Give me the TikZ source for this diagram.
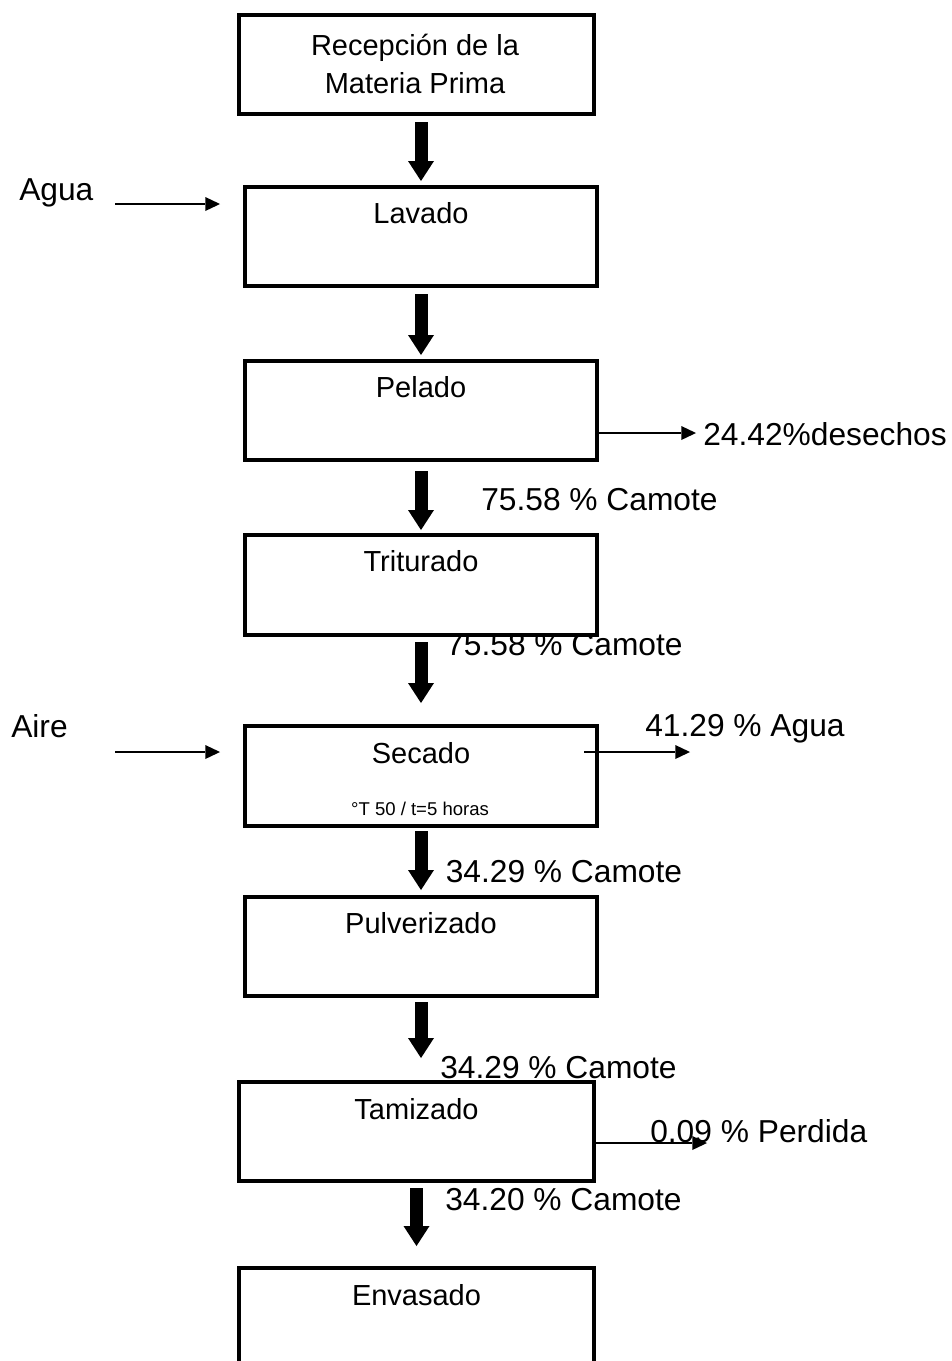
\documentclass[tikz,border=0pt]{standalone}
\usepackage{fontspec}
\setmainfont{Liberation Sans}
\usetikzlibrary{arrows.meta,calc}
\begin{document}
\begin{tikzpicture}[x=0.75pt,y=-0.75pt,
  box/.style={draw,line width=3pt,fill=white,minimum width=264pt,minimum height=74.25pt,inner sep=0pt},
  lbl/.style={font=\fontsize{21.75pt}{28.5pt}\selectfont,inner sep=0pt},
  side/.style={font=\fontsize{23.8pt}{28pt}\selectfont,inner sep=0pt,anchor=base west},
  small/.style={font=\fontsize{13.9pt}{16pt}\selectfont,inner sep=0pt,anchor=base},
  big/.style={line width=9.75pt,-{Triangle[length=15pt,width=19.5pt,line width=0pt]}},
  flow/.style={line width=1.5pt,-{Triangle[length=11pt,width=10.5pt,line width=0pt]}}]
\useasboundingbox (0,0) rectangle (952,1361);
\clip (0,0) rectangle (952,1361);
% side labels (under the boxes)
\node[side] (agua) at (19,200) {Agua};
\node[side] (aire) at (11,737) {Aire};
\node[side] (des) at (703,445) {24.42\%desechos};
\node[side] (c1) at (481,510) {75.58 \% Camote};
\node[side] (c2) at (446,655) {75.58 \% Camote};
\node[side] (agu2) at (645,736) {41.29 \% Agua};
\node[side] (c3) at (445.5,882) {34.29 \% Camote};
\node[side] (c4) at (440,1078) {34.29 \% Camote};
\node[side] (per) at (650,1142) {0.09 \% Perdida};
\node[side] (c5) at (445,1210) {34.20 \% Camote};
% boxes
\node[box,minimum width=266pt,minimum height=74pt] (rec) at (416.75,64.25) {};
\node[box] (lav) at (421,236.5) {};
\node[box] (pel) at (421,410.5) {};
\node[box,minimum height=75pt] (tri) at (421,585) {};
\node[box,minimum height=75pt] (sec) at (421,776) {};
\node[box] (pul) at (421,946.5) {};
\node[box,minimum width=266.25pt] (tam) at (416.5,1131.5) {};
\node[box,minimum width=266.25pt,minimum height=76.5pt] (env) at (416.5,1319) {};
% box labels
\node[lbl,align=center] (recT) at (415,63.5) {Recepción de la\\Materia Prima};
\node[lbl,anchor=base] (lavT) at ([yshift=-29pt]lav.north) {Lavado};
\node[lbl,anchor=base] (pelT) at ([yshift=-29pt]pel.north) {Pelado};
\node[lbl,anchor=base] (triT) at ([yshift=-29pt]tri.north) {Triturado};
\node[lbl,anchor=base] (secT) at ([yshift=-29.5pt]sec.north) {Secado};
\node[small] (secC) at (420,815) {°T 50 / t=5 horas};
\node[lbl,anchor=base] (pulT) at ([yshift=-29pt]pul.north) {Pulverizado};
\node[lbl,anchor=base] (tamT) at ([yshift=-29.5pt]tam.north) {Tamizado};
\node[lbl,anchor=base] (envT) at ([yshift=-29.5pt]env.north) {Envasado};
% main flow arrows
\draw[big,shorten <=4.9pt,shorten >=3pt] (lav.north |- rec.south) -- (lav.north);
\draw[big,shorten <=4.5pt,shorten >=3pt] (lav.south) -- (pel.north);
\draw[big,shorten <=6.75pt,shorten >=2.25pt] (pel.south) -- (tri.north);
\draw[big,shorten <=3.75pt,shorten >=15.75pt] (tri.south) -- (sec.north);
\draw[big,shorten <=2.25pt,shorten >=3.75pt] (sec.south) -- (pul.north);
\draw[big,shorten <=3pt,shorten >=16.5pt] (pul.south) -- (pul.south |- tam.north);
\draw[big,shorten <=3.75pt,shorten >=15pt] (tam.south) -- (env.north);
% side flows
\coordinate (aguaS) at (115,204);
\draw[flow,shorten >=17.25pt] (aguaS) -- (aguaS -| lav.west);
\coordinate (aireS) at (115,752);
\draw[flow,shorten >=17.25pt] (aireS) -- (aireS -| sec.west);
\coordinate (desE) at (696,433);
\draw[flow] (pel.east |- desE) -- (desE);
\coordinate (aguE) at (690,752);
\draw[flow] ($(sec.east |- aguE)+(-15,0)$) -- (aguE);
\coordinate (perE) at (707,1143);
\draw[flow] (tam.east |- perE) -- (perE);
\end{tikzpicture}
\end{document}
